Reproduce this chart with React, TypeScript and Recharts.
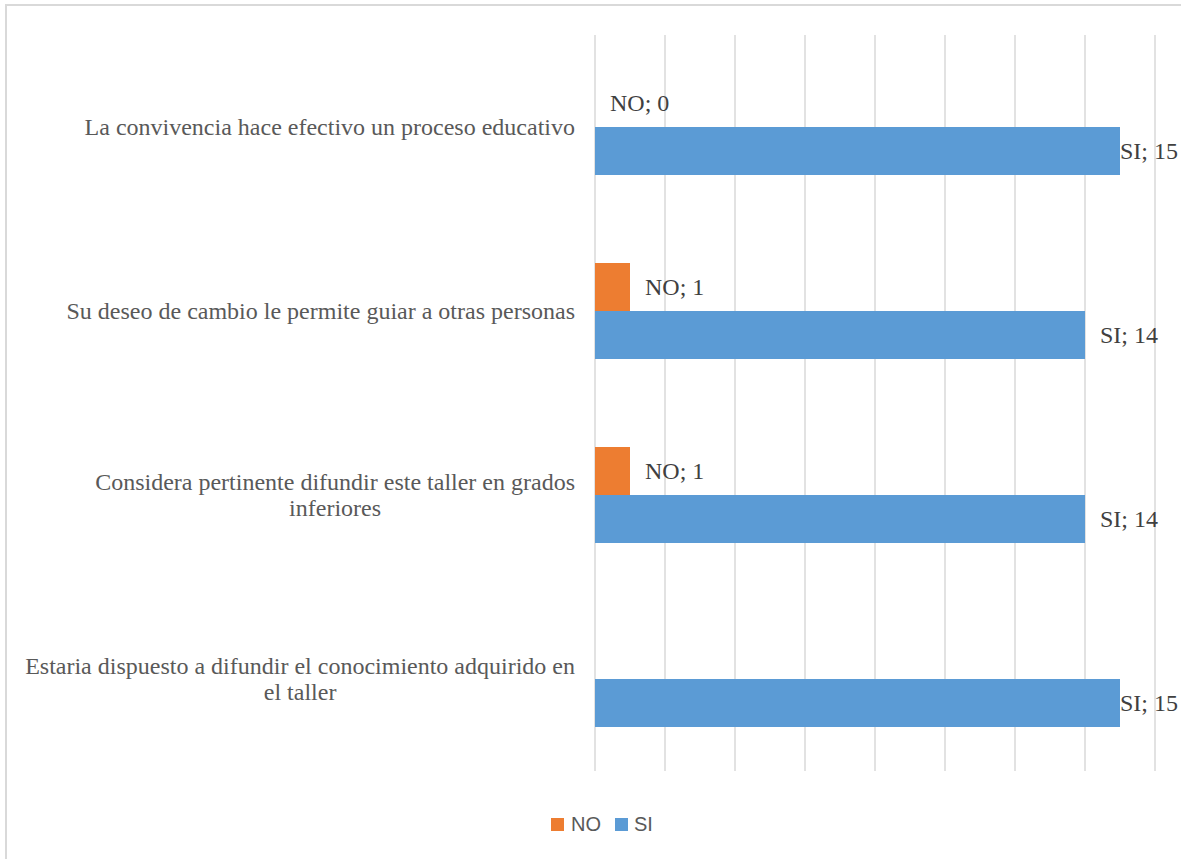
import { useLayoutEffect, useRef, useState } from "react";
import { Bar, BarChart, CartesianGrid, LabelList, XAxis, YAxis } from "recharts";

// Preguntas, de arriba abajo tal como aparecen en el gráfico.
const PREGUNTAS = [
  "La convivencia hace efectivo un proceso educativo",
  "Su deseo de cambio le permite guiar a otras personas",
  "Considera pertinente difundir este taller en grados\ninferiores",
  "Estaria dispuesto a difundir el conocimiento adquirido en\nel taller",
];
const RESPUESTAS_NO = [0, 1, 1, null];
const RESPUESTAS_SI = [15, 14, 14, 15];
const MARCAS_X = [0, 2, 4, 6, 8, 10, 12, 14, 16];

const AZUL = "#5B9BD5";
const NARANJA = "#ED7D31";
const GRELHA = "#D9D9D9";
const TEXTO = "#595959";
const ETIQUETA = "#404040";
const SERIF = "'Liberation Serif', 'Times New Roman', serif";

const W = 1181;
const H = 859;

const dados = PREGUNTAS.map((pregunta, i) => ({
  pregunta,
  NO: RESPUESTAS_NO[i],
  SI: RESPUESTAS_SI[i],
}));

const serifStyle = { fontFamily: SERIF, fontSize: 24 };

// Como no Excel: o bloco encosta à direita e as linhas centram-se entre si.
function TickPregunta({ x, y, payload }: any) {
  const linhas = String(payload.value).split("\n");
  const alto = 26;
  const inicio = y - ((linhas.length - 1) * alto) / 2;
  const ref = useRef<SVGTextElement>(null);
  const [largura, setLargura] = useState(0);

  useLayoutEffect(() => {
    const el = ref.current;
    if (!el || linhas.length < 2) return;
    let max = 0;
    el.querySelectorAll("tspan").forEach((t) => {
      max = Math.max(max, (t as SVGTSpanElement).getComputedTextLength());
    });
    if (Math.abs(max - largura) > 0.5) setLargura(max);
  });

  const centrado = linhas.length > 1 && largura > 0;
  const xTexto = centrado ? x - largura / 2 : x;
  return (
    <text
      ref={ref}
      x={xTexto}
      y={inicio}
      textAnchor={centrado ? "middle" : "end"}
      fill={TEXTO}
      style={serifStyle}
    >
      {linhas.map((l, i) => (
        <tspan key={i} x={xTexto} y={inicio + i * alto} dy="0.35em">
          {l}
        </tspan>
      ))}
    </text>
  );
}

function SemMarca() {
  return null;
}

function textoEtiqueta(texto: string, xBase: number, yMeio: number) {
  const inicio = xBase + 15;
  const estimado = texto.length * 10;
  const limite = W - 3;
  const cabe = inicio + estimado <= limite;
  return (
    <text
      x={cabe ? inicio : limite}
      y={yMeio}
      dy="0.35em"
      textAnchor={cabe ? "start" : "end"}
      fill={ETIQUETA}
      style={serifStyle}
    >
      {texto}
    </text>
  );
}

// Etiqueta do SI: à direita da barra, encostada ao bordo se não couber.
function etiquetaSI(props: any) {
  const { x, y, width, height, value } = props;
  if (value == null) return null;
  return textoEtiqueta(`SI; ${value}`, Number(x) + Number(width), Number(y) + Number(height) / 2);
}

// Etiqueta do NO: o recharts não desenha a de uma barra de comprimento 0, por
// isso sai da barra do SI (mesma escala: px por unidade = largura / valor).
function etiquetaNO(props: any) {
  const { x, y, width, height, index } = props;
  const no = RESPUESTAS_NO[index];
  const si = RESPUESTAS_SI[index];
  if (no == null) return null;
  const fim = Number(x) + (Number(width) / si) * no;
  return textoEtiqueta(`NO; ${no}`, fim, Number(y) - Number(height) / 2);
}

export default function App() {
  return (
    <div style={{ position: "absolute", left: 0, top: 0, width: W, height: H, background: "#fff" }}>
      <div
        style={{
          position: "absolute",
          left: 5,
          top: 4,
          width: W,
          height: H,
          borderTop: `2px solid ${GRELHA}`,
          borderLeft: `2px solid ${GRELHA}`,
        }}
      />
      <div style={{ position: "absolute", left: 0, top: 0 }}>
        <BarChart
          width={W}
          height={H}
          data={dados}
          layout="vertical"
          margin={{ top: 35, right: 26, bottom: 88, left: 0 }}
          barCategoryGap={44}
          barGap={0}
        >
          <CartesianGrid stroke={GRELHA} strokeWidth={1.5} horizontal={false} />
          <XAxis
            type="number"
            domain={[0, 16]}
            ticks={MARCAS_X}
            tick={<SemMarca />}
            tickLine={false}
            axisLine={false}
            height={0}
          />
          <YAxis
            type="category"
            dataKey="pregunta"
            width={595}
            tick={<TickPregunta />}
            tickLine={false}
            axisLine={false}
            tickSize={0}
            tickMargin={20}
            interval={0}
          />
          <Bar dataKey="NO" fill={NARANJA} isAnimationActive={false} />
          <Bar dataKey="SI" fill={AZUL} isAnimationActive={false}>
            <LabelList dataKey="SI" content={etiquetaSI} />
            <LabelList dataKey="NO" content={etiquetaNO} />
          </Bar>
        </BarChart>
      </div>
      <div
        style={{
          position: "absolute",
          left: 551,
          top: 812,
          display: "flex",
          alignItems: "center",
          fontFamily: "'Liberation Sans', Arial, sans-serif",
          fontSize: 20,
          color: TEXTO,
          height: 24,
        }}
      >
        <span style={{ width: 13, height: 13, background: NARANJA, marginRight: 7 }} />
        <span style={{ marginRight: 14 }}>NO</span>
        <span style={{ width: 13, height: 13, background: AZUL, marginRight: 6 }} />
        <span>SI</span>
      </div>
    </div>
  );
}
